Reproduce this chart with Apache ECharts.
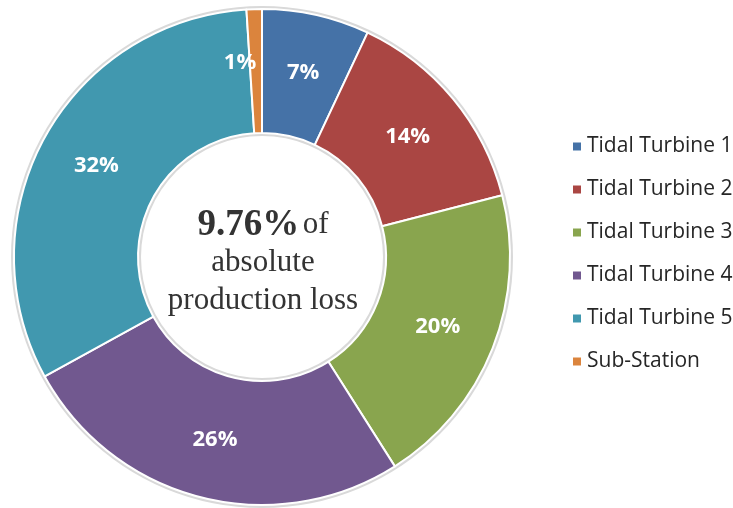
<!DOCTYPE html>
<html>
<head>
<meta charset="utf-8">
<style>
  html, body { margin: 0; padding: 0; background: #ffffff; }
  #chart { width: 733px; height: 508px; }
</style>
<script src="https://cdn.jsdelivr.net/npm/echarts@6/dist/echarts.min.js"></script>
</head>
<body>
<div id="chart"></div>
<script>
// Share of production loss by component
const components = ['Tidal Turbine 1', 'Tidal Turbine 2', 'Tidal Turbine 3', 'Tidal Turbine 4', 'Tidal Turbine 5', 'Sub-Station'];
const lossShare = [7, 14, 20, 26, 32, 1];
const sliceColors = ['#4572A7', '#AA4643', '#89A54E', '#71588F', '#4198AF', '#DB843D'];
const totalLoss = '9.76%';

const chart = echarts.init(document.getElementById('chart'));

const sliceData = components.map((name, i) => ({
  name: name,
  value: lossShare[i],
  itemStyle: { color: sliceColors[i] }
}));

chart.setOption({
  animation: false,
  backgroundColor: '#ffffff',
  legend: {
    orient: 'vertical',
    left: 566,
    top: 131,
    itemWidth: 10,
    itemHeight: 10,
    itemGap: 22,
    icon: 'rect',
    data: components,
    textStyle: { fontFamily: 'Open Sans', fontSize: 21, color: '#262626', padding: [0, 0, 0, 0] }
  },
  graphic: [{
    type: 'text',
    x: 263,
    y: 263,
    style: {
      text: '{b|' + totalLoss + '} {n|of}\n{n|absolute}\n{n|production loss}',
      align: 'center',
      verticalAlign: 'middle',
      fill: '#333333',
      lineHeight: 38,
      rich: {
        b: { fontFamily: 'Liberation Serif', fontWeight: 'bold', fontSize: 37, lineHeight: 38, fill: '#333333' },
        n: { fontFamily: 'Liberation Serif', fontSize: 31, lineHeight: 38, fill: '#333333' }
      }
    },
    z: 10
  }],
  series: [
    {
      // faint grey halo around the ring
      type: 'pie',
      silent: true,
      center: [262, 257],
      radius: [121, 251],
      startAngle: 90,
      label: { show: false },
      labelLine: { show: false },
      itemStyle: { color: '#d9d9d9' },
      data: [{ value: 1, name: '' }],
      legendHoverLink: false,
      z: 1
    },
    {
      type: 'pie',
      center: [262, 257],
      radius: [124, 248],
      startAngle: 90,
      clockwise: true,
      avoidLabelOverlap: false,
      itemStyle: { borderColor: '#ffffff', borderWidth: 2 },
      label: {
        show: true,
        position: 'inside',
        formatter: '{c}%',
        color: '#ffffff',
        fontFamily: 'Open Sans',
        fontWeight: 'bold',
        fontSize: 22
      },
      labelLine: { show: false },
      labelLayout: function (params) {
        if (params.dataIndex === 5) {
          return { dx: -16, dy: -5 };
        }
        return {};
      },
      data: sliceData,
      z: 2
    }
  ]
});
</script>
</body>
</html>
